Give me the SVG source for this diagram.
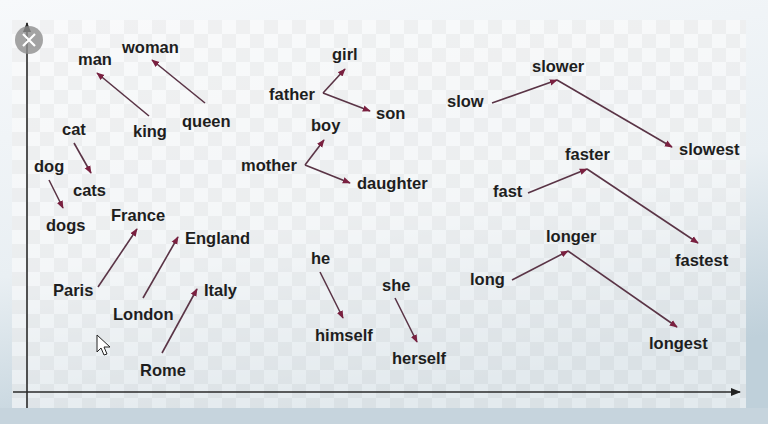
<svg xmlns="http://www.w3.org/2000/svg" width="768" height="424" viewBox="0 0 768 424">
  <defs>
    <linearGradient id="bg" x1="0" y1="0" x2="0.3" y2="1">
      <stop offset="0" stop-color="#f7f9fb"/>
      <stop offset="0.6" stop-color="#e9eff3"/>
      <stop offset="1" stop-color="#bfd0da"/>
    </linearGradient>
    <pattern id="checker" x="12" y="20" width="28" height="28" patternUnits="userSpaceOnUse">
      <rect width="28" height="28" fill="#fbfbfb"/>
      <rect width="14" height="14" fill="#ececec"/>
      <rect x="14" y="14" width="14" height="14" fill="#ececec"/>
    </pattern>
    <marker id="ah" viewBox="0 0 10 10" refX="9" refY="5" markerWidth="8" markerHeight="8" markerUnits="userSpaceOnUse" orient="auto">
      <path d="M0,1 L10,5 L0,9 Z" fill="#7a2040"/>
    </marker>
    <marker id="axh" viewBox="0 0 10 10" refX="9" refY="5" markerWidth="10" markerHeight="10" markerUnits="userSpaceOnUse" orient="auto">
      <path d="M0,1 L10,5 L0,9 Z" fill="#222"/>
    </marker>
    <style>
      .w { font-family: "Liberation Sans", Arial, sans-serif; font-size: 16.5px; font-weight: bold; fill: #1e1e1e; }
      .c { stroke: #5a3446; stroke-width: 1.6; fill: none; }
      .ax { stroke: #2a2a2a; stroke-width: 1.6; fill: none; }
    </style>
  </defs>

  <rect width="768" height="424" fill="url(#bg)"/>
  <rect x="12" y="20" width="734" height="388" fill="url(#checker)" opacity="0.6"/>
  <rect x="0" y="408" width="768" height="16" fill="#c6d4dd"/>

  <g id="axes">
    <line class="ax" x1="27" y1="408" x2="27" y2="23" marker-end="url(#axh)"/>
    <line class="ax" x1="13" y1="392" x2="740" y2="392" marker-end="url(#axh)"/>
  </g>

  <g id="close-button">
    <circle cx="29" cy="40" r="14" fill="#8f8f8f" opacity="0.8"/>
    <path d="M23,34 L35,46 M35,34 L23,46" stroke="#ffffff" stroke-width="2.2"/>
  </g>

  <g id="connectors">
    <line class="c" x1="149" y1="116" x2="97" y2="73" marker-end="url(#ah)"/>
    <line class="c" x1="205" y1="103" x2="152" y2="60" marker-end="url(#ah)"/>
    <line class="c" x1="74" y1="143" x2="91" y2="173" marker-end="url(#ah)"/>
    <line class="c" x1="49" y1="180" x2="63" y2="208" marker-end="url(#ah)"/>
    <line class="c" x1="98" y1="287" x2="137" y2="229" marker-end="url(#ah)"/>
    <line class="c" x1="143" y1="298" x2="178" y2="237" marker-end="url(#ah)"/>
    <line class="c" x1="162" y1="353" x2="197" y2="289" marker-end="url(#ah)"/>

    <line class="c" x1="323" y1="93" x2="345" y2="69" marker-end="url(#ah)"/>
    <line class="c" x1="323" y1="93" x2="370" y2="111" marker-end="url(#ah)"/>
    <line class="c" x1="305" y1="165" x2="324" y2="140" marker-end="url(#ah)"/>
    <line class="c" x1="305" y1="165" x2="350" y2="183" marker-end="url(#ah)"/>

    <line class="c" x1="320" y1="272" x2="343" y2="318" marker-end="url(#ah)"/>
    <line class="c" x1="395" y1="298" x2="417" y2="342" marker-end="url(#ah)"/>

    <line class="c" x1="492" y1="103" x2="557" y2="80" marker-end="url(#ah)"/>
    <line class="c" x1="557" y1="80" x2="672" y2="147" marker-end="url(#ah)"/>
    <line class="c" x1="528" y1="193" x2="587" y2="169" marker-end="url(#ah)"/>
    <line class="c" x1="587" y1="169" x2="698" y2="243" marker-end="url(#ah)"/>
    <line class="c" x1="512" y1="280" x2="568" y2="251" marker-end="url(#ah)"/>
    <line class="c" x1="568" y1="251" x2="677" y2="327" marker-end="url(#ah)"/>
  </g>

  <g id="man"><text class="w" x="78" y="65">man</text></g>
  <g id="woman"><text class="w" x="122" y="53">woman</text></g>
  <g id="king"><text class="w" x="133" y="137">king</text></g>
  <g id="queen"><text class="w" x="182" y="127">queen</text></g>
  <g id="cat"><text class="w" x="62" y="135">cat</text></g>
  <g id="cats"><text class="w" x="73" y="196">cats</text></g>
  <g id="dog"><text class="w" x="34" y="172">dog</text></g>
  <g id="dogs"><text class="w" x="46" y="231">dogs</text></g>
  <g id="France"><text class="w" x="111" y="221">France</text></g>
  <g id="England"><text class="w" x="185" y="244">England</text></g>
  <g id="Paris"><text class="w" x="53" y="296">Paris</text></g>
  <g id="London"><text class="w" x="113" y="320">London</text></g>
  <g id="Italy"><text class="w" x="204" y="296">Italy</text></g>
  <g id="Rome"><text class="w" x="140" y="376">Rome</text></g>

  <g id="girl"><text class="w" x="332" y="60">girl</text></g>
  <g id="father"><text class="w" x="269" y="100">father</text></g>
  <g id="son"><text class="w" x="376" y="119">son</text></g>
  <g id="boy"><text class="w" x="311" y="131">boy</text></g>
  <g id="mother"><text class="w" x="241" y="171">mother</text></g>
  <g id="daughter"><text class="w" x="357" y="189">daughter</text></g>

  <g id="he"><text class="w" x="311" y="264">he</text></g>
  <g id="she"><text class="w" x="382" y="291">she</text></g>
  <g id="himself"><text class="w" x="315" y="341">himself</text></g>
  <g id="herself"><text class="w" x="392" y="364">herself</text></g>

  <g id="slow"><text class="w" x="447" y="107">slow</text></g>
  <g id="slower"><text class="w" x="532" y="72">slower</text></g>
  <g id="slowest"><text class="w" x="679" y="155">slowest</text></g>
  <g id="fast"><text class="w" x="493" y="197">fast</text></g>
  <g id="faster"><text class="w" x="565" y="160">faster</text></g>
  <g id="fastest"><text class="w" x="675" y="266">fastest</text></g>
  <g id="long"><text class="w" x="470" y="285">long</text></g>
  <g id="longer"><text class="w" x="546" y="242">longer</text></g>
  <g id="longest"><text class="w" x="649" y="349">longest</text></g>

  <g id="cursor">
    <path d="M97,335 L97,352 L101,348 L104,355 L107,354 L104,347 L110,347 Z" fill="#ffffff" stroke="#222" stroke-width="1"/>
  </g>
</svg>
